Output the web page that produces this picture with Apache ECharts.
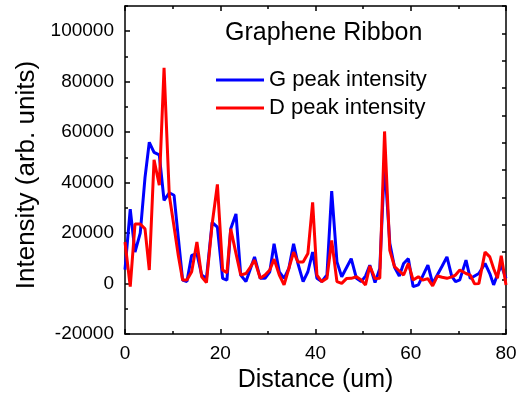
<!DOCTYPE html>
<html>
<head>
<meta charset="utf-8">
<script src="https://cdn.jsdelivr.net/npm/echarts@6/dist/echarts.min.js"></script>
<style>
html,body{margin:0;padding:0;background:#fff;}
#chart{width:526px;height:398px;}
</style>
</head>
<body>
<div id="chart"></div>
<script>
// Distance positions (um)
const dist = [0, 1.1, 2.1, 3.2, 4.2, 5.1, 6.1, 7.2, 8.2, 9.3, 10.3, 11.2, 12.1, 13.0, 14.0, 15.1, 16.1, 17.1, 18.3, 19.4,
  20.5, 21.4, 22.2, 23.3, 24.3, 25.4, 26.3, 27.2, 28.4, 29.4, 30.4, 31.3, 32.4, 33.4, 34.4, 35.4, 36.3, 37.4, 38.4, 39.4,
  40.3, 41.3, 42.4, 43.4, 44.5, 45.5, 46.5, 47.5, 48.6, 49.6, 50.5, 51.4, 52.5, 53.5, 54.5, 55.6, 56.6, 57.6, 58.5, 59.5,
  60.5, 61.6, 62.5, 63.6, 64.6, 65.6, 66.6, 67.6, 68.6, 69.4, 70.3, 71.6, 72.5, 73.4, 74.3, 75.6, 76.6, 77.4, 78.2, 79.0, 80];
// G peak intensity
const gPeak = [5500, 29500, 12500, 20000, 42000, 56000, 52000, 51000, 33000, 36000, 35000, 18000, 1400, 800, 11200, 11900, 3400, 2000, 24300, 22400,
  2100, 1400, 21700, 27600, 3400, 800, 5700, 10600, 2100, 2100, 4700, 15800, 4700, 2100, 6000, 15800, 8000, 800, 4700, 12500,
  2100, 800, 3400, 36700, 8600, 2700, 6300, 9900, 2100, 800, 3000, 7300, 400, 6000, 48000, 16000, 6500, 3000, 8000, 9900,
  -1200, -500, 3000, 7300, 100, 3500, 7000, 10600, 3000, 800, 1500, 9300, 2000, 3000, 4000, 8000, 4000, -500, 3500, 7300, 2000];
// D peak intensity
const dPeak = [16500, -1200, 23600, 23600, 21700, 5400, 49100, 39000, 85500, 35000, 22500, 11000, 1400, 1400, 4700, 16500, 2700, 400, 23600, 39300,
  5400, 4300, 21700, 12000, 3400, 4000, 6500, 9300, 2100, 3400, 5400, 9700, 3400, -500, 6000, 12500, 8600, 8600, 11900, 32200,
  3400, 800, 2100, 17100, 800, 100, 2000, 2100, 2700, 1400, -500, 7000, 2000, 2100, 60300, 13200, 6700, 5000, 3400, 8000,
  1400, 2700, 1400, 2000, -900, 3000, 2500, 2100, 2700, 3400, 5400, 4000, 3400, -100, 0, 12500, 10600, 6000, 2100, 11000, -500];

const seriesNames = ['G peak intensity', 'D peak intensity'];
const seriesColors = ['#0000ff', '#ff0000'];

const FONT = 'Liberation Sans, Arial, sans-serif';
const pairs = (xs, ys) => xs.map((x, i) => [x, ys[i]]);
const axisLineStyle = {color: '#000', width: 1.5};
const plain = v => String(v);

const chart = echarts.init(document.getElementById('chart'), null, {renderer: 'canvas'});
chart.setOption({
  animation: false,
  backgroundColor: '#fff',
  title: {
    text: 'Graphene Ribbon',
    left: 220, top: 16,
    textStyle: {fontFamily: FONT, fontSize: 25, fontWeight: 'normal', color: '#000'}
  },
  legend: {
    data: seriesNames,
    orient: 'vertical',
    left: 211, top: 64,
    itemWidth: 48, itemHeight: 3, itemGap: 6,
    icon: 'rect',
    textStyle: {fontFamily: FONT, fontSize: 22, color: '#000'}
  },
  grid: {left: 125, right: 20, top: 6, bottom: 61, containLabel: false},
  xAxis: [
    {
      type: 'value', position: 'bottom', min: 0, max: 80, interval: 20,
      name: 'Distance (um)', nameLocation: 'middle', nameGap: 31,
      nameTextStyle: {fontFamily: FONT, fontSize: 25, color: '#000'},
      axisLine: {show: true, onZero: false, lineStyle: axisLineStyle},
      axisTick: {show: true, inside: true, length: 5, lineStyle: axisLineStyle},
      minorTick: {show: true, splitNumber: 2, length: 3, lineStyle: {color: '#000', width: 1.5}},
      axisLabel: {fontFamily: FONT, fontSize: 19, color: '#000', margin: 10, formatter: plain},
      splitLine: {show: false}, minorSplitLine: {show: false}
    },
    {
      type: 'value', position: 'top', min: 0, max: 80, interval: 20,
      axisLine: {show: true, onZero: false, lineStyle: axisLineStyle},
      axisTick: {show: true, inside: true, length: 5, lineStyle: axisLineStyle},
      minorTick: {show: true, splitNumber: 2, length: 3, lineStyle: {color: '#000', width: 1.5}},
      axisLabel: {show: false},
      splitLine: {show: false}
    }
  ],
  yAxis: [
    {
      type: 'value', position: 'left', min: -20000, max: 110000, interval: 20000,
      name: 'Intensity (arb. units)', nameLocation: 'middle', nameGap: 84,
      nameTextStyle: {fontFamily: FONT, fontSize: 26, color: '#000', padding: [0, 10, 0, 0]},
      axisLine: {show: true, onZero: false, lineStyle: axisLineStyle},
      axisTick: {show: true, inside: true, length: 5, lineStyle: axisLineStyle},
      axisLabel: {fontFamily: FONT, fontSize: 19, color: '#000', margin: 11, showMaxLabel: false, formatter: plain},
      splitLine: {show: false}
    },
    {
      type: 'value', position: 'left', min: -20000, max: 110000, interval: 10000,
      axisLine: {show: false, onZero: false},
      axisTick: {show: true, inside: true, length: 3, lineStyle: axisLineStyle},
      axisLabel: {show: false},
      splitLine: {show: false}
    },
    {
      type: 'value', position: 'right', min: 0, max: 12, interval: 1,
      axisLine: {show: true, onZero: false, lineStyle: axisLineStyle},
      axisTick: {show: true, inside: true, length: 4, lineStyle: axisLineStyle},
      axisLabel: {show: false},
      splitLine: {show: false}
    }
  ],
  series: [
    {
      name: seriesNames[0], type: 'line', xAxisIndex: 0, yAxisIndex: 0,
      data: pairs(dist, gPeak), showSymbol: false, symbol: 'none',
      lineStyle: {color: seriesColors[0], width: 3}, itemStyle: {color: seriesColors[0]}
    },
    {
      name: seriesNames[1], type: 'line', xAxisIndex: 0, yAxisIndex: 0,
      data: pairs(dist, dPeak), showSymbol: false, symbol: 'none',
      lineStyle: {color: seriesColors[1], width: 3}, itemStyle: {color: seriesColors[1]}
    }
  ]
});
</script>
</body>
</html>
